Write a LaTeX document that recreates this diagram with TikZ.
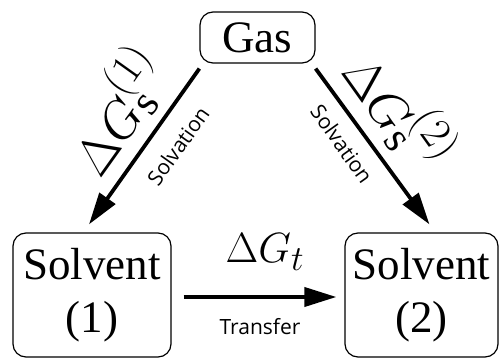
\RequirePackage{fix-cm}
\documentclass[tikz,border=0pt]{standalone}
\usepackage{fontspec}
\usepackage{graphicx}
\setmainfont{Liberation Serif}
\newfontfamily\labelsans{Open Sans}
\usetikzlibrary{arrows.meta}
\newcommand{\dgbig}[1]{\scalebox{2.08}{\fontsize{24.88}{30}\selectfont$#1$}}
\newcommand{\dgmid}[1]{\scalebox{1.7}{\fontsize{24.88}{30}\selectfont$#1$}}
\begin{document}
\begin{tikzpicture}[x=1pt,y=-1pt,
  box/.style={draw, line width=1.2pt, rounded corners=13pt, inner sep=0pt, align=center,
    font=\fontsize{45}{53}\selectfont},
  arr/.style={line width=3.8pt, -{Triangle[length=32pt,width=19pt]}},
  dg/.style={inner sep=0pt},
  small/.style={font=\labelsans\fontsize{21}{21}\selectfont, inner sep=0pt}]
\useasboundingbox (0,0) rectangle (499,358);
\node[box, minimum width=115pt, minimum height=51pt] (gas) at (257.5,37.5) {Gas};
\node[box, minimum width=158pt, minimum height=124pt] (s1) at (92,295) {Solvent\\(1)};
\node[box, minimum width=153pt, minimum height=124pt] (s2) at (421.5,295) {Solvent\\(2)};
\draw[arr] ([yshift=-5pt]gas.south west) -- ([xshift=-3pt,yshift=8pt]s1.north);
\draw[arr] ([yshift=-5pt]gas.south east) -- ([xshift=8pt,yshift=8pt]s2.north);
\draw[arr] ([xshift=12pt,yshift=-2pt]s1.east) -- ([xshift=-8pt,yshift=-2pt]s2.west);
\node[dg, rotate=54.5] (l1) at (116,110) {\dgbig{\Delta G_{\mathrm{s}}^{(1)}}};
\node[small, rotate=54.5] (sv1) at (178,146) {Solvation};
\node[dg, rotate=-54.5] (l2) at (401,110) {\dgbig{\Delta G_{\mathrm{s}}^{(2)}}};
\node[small, rotate=-54.5] (sv2) at (342,144) {Solvation};
\node[dg] (lt) at (265,252) {\dgmid{\Delta G_t}};
\node[small] (tr) at (260,327) {Transfer};
\end{tikzpicture}
\end{document}
